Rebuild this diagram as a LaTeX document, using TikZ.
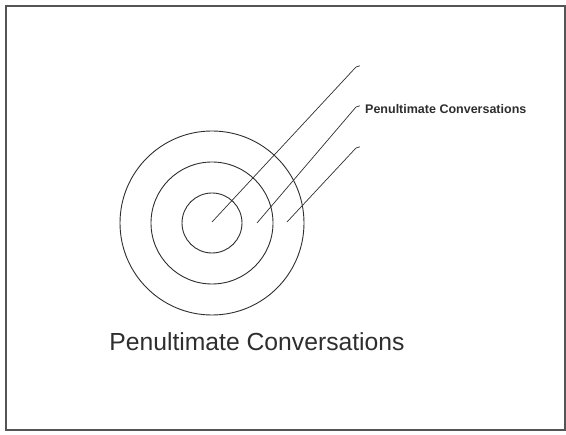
\documentclass[tikz,border=0pt]{standalone}
\usepackage{fontspec}
\setmainfont{Liberation Sans}
\usepackage{xcolor}
\usepackage{tikz}
\usetikzlibrary{positioning,calc}
\definecolor{ink}{HTML}{2E2E2E}
\definecolor{frame}{HTML}{555555}
\tikzset{
  ring/.style={
    circle, draw=ink, line width=0.9pt, inner sep=0pt,
    minimum size=#1
  },
  ring/.default=60pt,
  leader/.style={draw=ink, line width=0.7pt, line join=round},
  toplabel/.style={font=\fontsize{12.5}{14}\selectfont\bfseries, text=ink,
    anchor=west, inner sep=0pt},
  titlelabel/.style={font=\fontsize{24.7}{28}\selectfont, text=ink,
    anchor=base, inner sep=0pt},
}

\begin{document}
\begin{tikzpicture}[x=1pt, y=-1pt]
  \useasboundingbox (0,0) rectangle (566,435);
  \draw[frame, line width=2pt] (6,6) rectangle (565,430);
  % target rings
  \node[ring=184pt] (outer) at (212,223) {};
  \node[ring=122pt] (middle) at (212,223) {};
  \node[ring=60pt] (inner) at (212,223) {};
  % leader ends
  \coordinate (p1) at (212,222);
  \coordinate (p2) at (257,223);
  \coordinate (p3) at (287,222);
  \coordinate (q1) at (356,67);
  \coordinate (q2) at (356,107);
  \coordinate (q3) at (356,148);
  \foreach \i in {1,2,3} { \draw[leader] (p\i) -- (q\i) -- ++(4,-1.2); }
  \node[toplabel] (ringlabel) at (365,109) {Penultimate Conversations};
  \node[titlelabel] (title) at (257,351) {Penultimate Conversations};
\end{tikzpicture}
\end{document}
